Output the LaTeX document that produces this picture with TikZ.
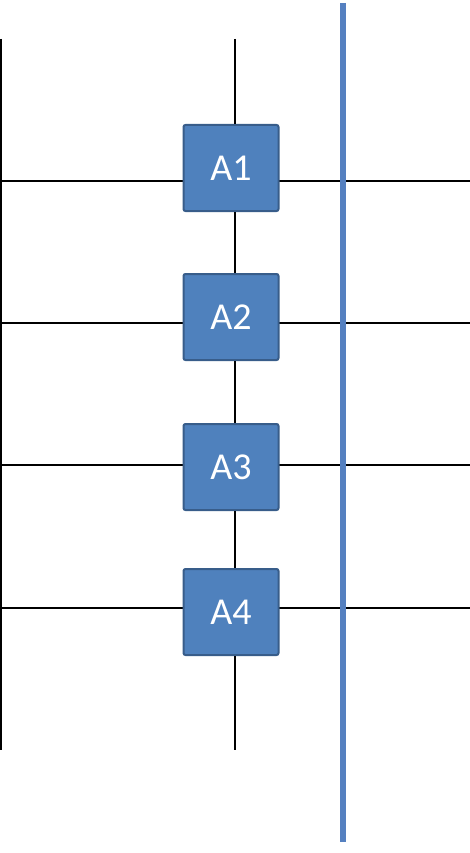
\documentclass[tikz,border=0pt]{standalone}
\usepackage{fontspec}
\setmainfont{Carlito}
\usepackage{tikz}
\usetikzlibrary{positioning}

\definecolor{boxfill}{HTML}{4F81BD}
\definecolor{boxline}{HTML}{385D8A}
\definecolor{busblue}{HTML}{5580C0}

\begin{document}
\begin{tikzpicture}[
  x=1pt, y=-1pt,
  box/.style={draw=boxline, fill=boxfill, line width=2pt, rounded corners=2pt,
    minimum width=95pt, minimum height=86pt, inner sep=0pt,
    text=white, font=\fontsize{38}{44}\selectfont},
  wire/.style={line width=1.5pt, black},
  bus/.style={line width=5.5pt, busblue},
]
  \useasboundingbox (0,0) rectangle (470,853);
  % frame lines
  \coordinate (ltop) at (1,39);
  \coordinate (lbot) at (1,750);
  \coordinate (mtop) at (235,39);
  \coordinate (mbot) at (235,750);
  \draw[wire] (ltop) -- (lbot);
  \draw[wire] (0,181) coordinate (h1l) -- (470,181) coordinate (h1r);
  \draw[wire] (0,323) coordinate (h2l) -- (470,323) coordinate (h2r);
  \draw[wire] (0,465) coordinate (h3l) -- (470,465) coordinate (h3r);
  \draw[wire] (0,608) coordinate (h4l) -- (470,608) coordinate (h4r);
  % blocks
  \node[box] (a1) at (231,168) {A1};
  \node[box, below=61pt of a1] (a2) {A2};
  \node[box, below=62pt of a2] (a3) {A3};
  \node[box, below=57pt of a3] (a4) {A4};
  \draw[wire] (mtop) -- (a1.north -| mtop);
  \draw[wire] (a1.south -| mtop) -- (a2.north -| mtop);
  \draw[wire] (a2.south -| mtop) -- (a3.north -| mtop);
  \draw[wire] (a3.south -| mtop) -- (a4.north -| mtop);
  \draw[wire] (a4.south -| mtop) -- (mbot);
  % cut line
  \coordinate (btop) at (343,3);
  \coordinate (bbot) at (343,842);
  \draw[bus] (btop) -- (bbot);
\end{tikzpicture}
\end{document}
